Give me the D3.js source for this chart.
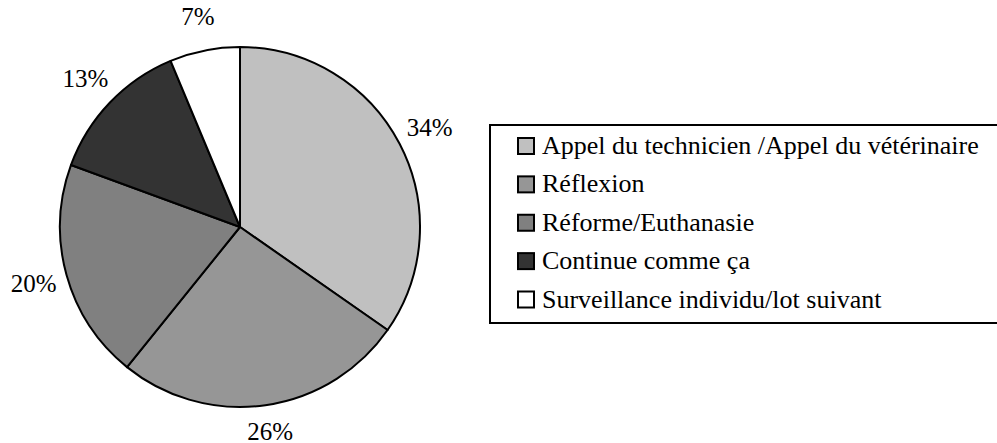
<!DOCTYPE html>
<html>
<head>
<meta charset="utf-8">
<script src="https://cdn.jsdelivr.net/npm/d3@7"></script>
</head>
<body style="margin:0">
<svg id="chart" width="997" height="443"></svg>
<script>
// categories, shares, printed labels
const categories = [
  "Appel du technicien /Appel du vétérinaire",
  "Réflexion",
  "Réforme/Euthanasie",
  "Continue comme ça",
  "Surveillance individu/lot suivant"
];
const shares = [34.7, 26.1, 19.8, 13.1, 6.3];
const pctLabels = ["34%", "26%", "20%", "13%", "7%"];
const fills = ["#c0c0c0", "#969696", "#808080", "#333333", "#ffffff"];

const WIDTH = 997, HEIGHT = 443;
const cx = 240, cy = 227, R = 180;
const SERIF = '"Liberation Serif"';

// touch the font once so it is ready before the svg text is laid out
const ctx = document.createElement("canvas").getContext("2d");
ctx.font = `26px ${SERIF}`;
ctx.measureText("Appel 34%");

const data = categories.map((c, i) => ({ name: c, value: shares[i], label: pctLabels[i], fill: fills[i] }));

const svg = d3.select("#chart");

const pie = d3.pie().value(d => d.value).sort(null);
const arc = d3.arc().innerRadius(0).outerRadius(R);
const labelArc = d3.arc().innerRadius(214).outerRadius(214);

const arcs = pie(data);

const g = svg.append("g").attr("transform", `translate(${cx},${cy})`);

g.selectAll("path.slice")
  .data(arcs)
  .join("path")
  .attr("class", "slice")
  .attr("d", arc)
  .attr("fill", d => d.data.fill)
  .attr("stroke", "#000")
  .attr("stroke-width", 2)
  .attr("stroke-linejoin", "round");

// labels sit outside the rim; keep the bottom one inside the picture
g.selectAll("text.pct")
  .data(arcs)
  .join("text")
  .attr("class", "pct")
  .attr("x", d => labelArc.centroid(d)[0])
  .attr("y", d => Math.min(labelArc.centroid(d)[1] + 8, HEIGHT - cy - 3))
  .attr("text-anchor", "middle")
  .style("font-family", SERIF)
  .attr("font-size", 25)
  .attr("fill", "#000")
  .text(d => d.data.label);

// legend
const legend = svg.append("g");
legend.append("rect")
  .attr("x", 490)
  .attr("y", 125)
  .attr("width", 540)
  .attr("height", 198)
  .attr("fill", "#fff")
  .attr("stroke", "#000")
  .attr("stroke-width", 2);

const rowY = d3.scalePoint().domain(categories).range([154, 307.5]);

const rows = legend.selectAll("g.row")
  .data(data)
  .join("g")
  .attr("class", "row")
  .attr("transform", d => `translate(0,${rowY(d.name)})`);

rows.append("rect")
  .attr("x", 518)
  .attr("y", -16)
  .attr("width", 16)
  .attr("height", 16)
  .attr("fill", d => d.fill)
  .attr("stroke", "#000")
  .attr("stroke-width", 2);

rows.append("text")
  .attr("x", 542)
  .attr("y", 0)
  .style("font-family", SERIF)
  .attr("font-size", 26)
  .attr("fill", "#000")
  .text(d => d.name);
</script>
</body>
</html>
